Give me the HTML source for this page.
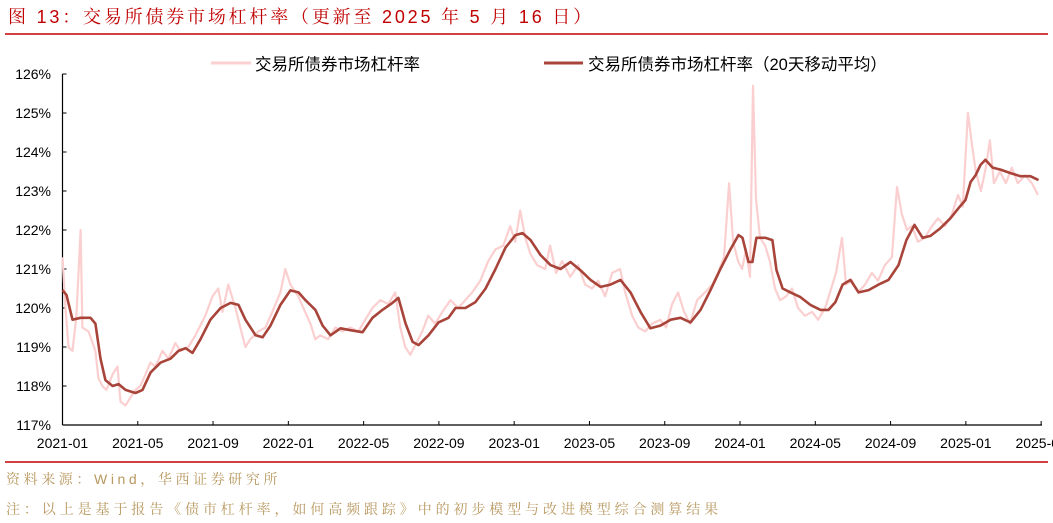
<!DOCTYPE html>
<html><head><meta charset="utf-8">
<style>
body{margin:0;background:#fff;width:1053px;height:523px;overflow:hidden;font-family:"Liberation Sans","Noto Sans CJK SC",sans-serif;}
svg{display:block}
</style></head><body>
<svg width="1053" height="523" id="c">
<text x="8" y="23" font-size="18" fill="#c00000" letter-spacing="2.8" font-family="Liberation Sans, Noto Serif CJK SC, serif">图 13：交易所债券市场杠杆率（更新至 2025 年 5 月 16 日）</text>
<line x1="5" y1="34" x2="1048" y2="34" stroke="#c00000" stroke-width="1.5"/>
<line x1="5" y1="462" x2="1048" y2="462" stroke="#c00000" stroke-width="1.5"/>
<text x="6" y="484" font-size="14" fill="#b8985f" letter-spacing="3.6" font-family="Liberation Sans, Noto Serif CJK SC, serif">资料来源：Wind，华西证券研究所</text>
<text x="6" y="514" font-size="14" fill="#b8985f" letter-spacing="3.9" font-family="Liberation Sans, Noto Serif CJK SC, serif">注：以上是基于报告《债市杠杆率，如何高频跟踪》中的初步模型与改进模型综合测算结果</text>
<g>
<line x1="211" y1="63" x2="251" y2="63" stroke="#fbd0d0" stroke-width="3"/>
<text x="255" y="70" font-size="16.5" fill="#000">交易所债券市场杠杆率</text>
<line x1="544" y1="63" x2="583" y2="63" stroke="#a8443a" stroke-width="3"/>
<text x="588" y="70" font-size="16.5" fill="#000">交易所债券市场杠杆率（20天移动平均）</text>
</g>
<g id="axes"></g>
<g id="plot"></g>
</svg>
<script>
const yTicks=[117,118,119,120,121,122,123,124,125,126];
const xTickLabels=["2021-01","2021-05","2021-09","2022-01","2022-05","2022-09","2023-01","2023-05","2023-09","2024-01","2024-05","2024-09","2025-01","2025-05"];
const maMonths=[0,0.21,0.53,0.96,1.49,1.75,2.02,2.28,2.66,2.98,3.35,3.88,4.25,4.68,5.21,5.74,6.16,6.54,6.91,7.33,7.86,8.40,8.93,9.35,9.72,10.26,10.63,11.05,11.58,12.11,12.54,12.91,13.44,13.82,14.24,14.77,15.30,15.94,16.47,17.00,17.53,17.85,18.23,18.60,18.92,19.45,19.98,20.51,20.88,21.41,21.94,22.48,23.01,23.54,24.07,24.44,24.87,25.40,25.93,26.46,26.99,27.52,28.06,28.59,29.12,29.65,30.18,30.71,31.24,31.77,32.31,32.84,33.37,33.90,34.43,34.96,35.49,35.92,36.13,36.45,36.66,36.87,37.35,37.72,37.94,38.26,38.68,39.21,39.74,40.28,40.70,41.07,41.45,41.87,42.30,42.83,43.36,43.89,44.42,44.84,45.27,45.70,46.12,46.65,47.18,47.61,47.98,48.25,48.51,48.78,49.04,49.42,49.84,50.37,50.90,51.43,51.86];
const maValues=[120.46,120.33,119.7,119.75,119.75,119.6,118.7,118.15,118.0,118.05,117.9,117.82,117.9,118.35,118.6,118.7,118.9,118.97,118.85,119.2,119.7,120.0,120.13,120.08,119.7,119.3,119.25,119.55,120.08,120.45,120.4,120.2,119.95,119.55,119.3,119.48,119.43,119.38,119.75,119.95,120.13,120.26,119.6,119.13,119.05,119.3,119.63,119.75,120.0,120.0,120.15,120.5,121.0,121.55,121.87,121.92,121.74,121.36,121.1,121.0,121.18,120.97,120.72,120.54,120.6,120.72,120.4,119.9,119.48,119.55,119.7,119.75,119.63,119.95,120.46,121.0,121.5,121.87,121.8,121.18,121.18,121.8,121.8,121.74,120.97,120.5,120.4,120.28,120.08,119.95,119.95,120.15,120.6,120.72,120.4,120.46,120.6,120.72,121.1,121.74,122.13,121.8,121.85,122.05,122.3,122.56,122.77,123.23,123.4,123.67,123.8,123.6,123.55,123.46,123.38,123.38,123.28];
const rawMonths=[0,.16,.32,.53,.74,.96,1.06,1.38,1.75,1.91,2.12,2.34,2.66,2.92,3.08,3.35,3.61,3.88,4.14,4.41,4.67,4.94,5.31,5.63,6.00,6.27,6.69,7.06,7.59,7.97,8.28,8.50,8.81,9.19,9.45,9.72,9.98,10.41,10.78,11.15,11.58,11.84,12.11,12.53,12.80,13.17,13.43,13.70,14.12,14.50,14.87,15.29,15.72,16.09,16.46,16.89,17.31,17.68,17.95,18.21,18.48,18.80,19.12,19.43,19.81,20.18,20.61,21.03,21.40,21.77,22.20,22.62,23.00,23.42,23.79,24.06,24.32,24.59,24.85,25.22,25.65,25.91,26.23,26.55,26.97,27.40,27.77,28.14,28.46,28.83,29.21,29.63,29.90,30.27,30.59,30.96,31.33,31.76,32.07,32.39,32.71,33.03,33.35,33.72,34.14,34.52,34.83,35.15,35.42,35.63,35.90,36.11,36.32,36.53,36.69,36.85,37.06,37.33,37.59,37.86,38.13,38.45,38.76,39.08,39.45,39.83,40.15,40.52,40.78,41.10,41.42,41.63,41.95,42.27,42.64,43.01,43.33,43.70,44.07,44.34,44.60,44.87,45.14,45.45,45.82,46.20,46.52,46.89,47.26,47.58,47.84,48.11,48.32,48.53,48.80,49.06,49.28,49.49,49.81,50.13,50.44,50.76,51.14,51.51,51.83];
const rawValues=[121.3,120.0,119.0,118.9,119.8,122.0,119.5,119.4,118.9,118.2,118.0,117.9,118.3,118.5,117.6,117.5,117.7,117.9,118.0,118.3,118.6,118.5,118.9,118.7,119.1,118.9,119.0,119.3,119.8,120.3,120.5,119.9,120.6,120.0,119.5,119.0,119.2,119.4,119.5,119.9,120.4,121.0,120.6,120.3,120.0,119.6,119.2,119.3,119.2,119.5,119.4,119.5,119.4,119.7,120.0,120.2,120.1,120.4,119.5,119.0,118.8,119.1,119.4,119.8,119.6,119.9,120.2,120.0,120.2,120.4,120.7,121.2,121.5,121.6,122.1,121.7,122.5,121.8,121.4,121.1,121.0,121.6,120.9,121.2,120.8,121.1,120.6,120.5,120.7,120.3,120.9,121.0,120.4,119.8,119.5,119.4,119.6,119.7,119.5,120.1,120.4,119.9,119.6,120.2,120.4,120.6,120.9,121.3,123.2,121.7,121.2,121.0,121.5,120.8,125.7,122.8,121.8,121.6,121.2,120.5,120.2,120.3,120.5,120.0,119.8,119.9,119.7,120.0,120.4,120.9,121.8,120.6,120.7,120.4,120.6,120.9,120.7,121.1,121.3,123.1,122.4,122.0,122.1,121.7,121.8,122.1,122.3,122.1,122.4,122.9,122.6,125.0,124.2,123.5,123.0,123.6,124.3,123.2,123.5,123.2,123.6,123.2,123.4,123.2,122.9];
const NS="http://www.w3.org/2000/svg";
const X0=62.5,MW=18.82,Y0=425,Y1=74,VMIN=117,VMAX=126;
const xs=m=>X0+m*MW;
const ys=v=>Y0-(v-VMIN)/(VMAX-VMIN)*(Y0-Y1);
function mk(t,a,p){const e=document.createElementNS(NS,t);for(const k in a)e.setAttribute(k,a[k]);p.appendChild(e);return e;}
const ax=document.getElementById('axes'),pl=document.getElementById('plot');
let yl=mk('line',{x1:X0,y1:Y1,x2:X0,y2:Y0,stroke:'#000','stroke-width':1.2},ax);


let xl=mk('line',{x1:X0,y1:Y0,x2:1042,y2:Y0,stroke:'#000','stroke-width':1.2},ax);


yTicks.forEach(v=>{
 const tk=mk('line',{x1:X0,y1:ys(v),x2:X0+4,y2:ys(v),stroke:'#000'},ax);
 
 
 const t=mk('text',{x:51,y:ys(v)+5,'font-size':14,'text-anchor':'end',fill:'#000'},ax);
 t.textContent=v+'%';
 
 
});
xTickLabels.forEach((s,i)=>{
 const x=xs(i*4);
 const tk=mk('line',{x1:x,y1:Y0,x2:x,y2:Y0-4,stroke:'#000'},ax);
 
 
 const t=mk('text',{x:x,y:448,'font-size':14,'text-anchor':'middle',fill:'#000'},ax);
 t.textContent=s;
 
 
});
function path(ms,vs){return ms.map((m,i)=>(i?'L':'M')+xs(m).toFixed(1)+','+ys(vs[i]).toFixed(1)).join('');}
const r=mk('path',{d:path(rawMonths,rawValues),fill:'none',stroke:'#fbcfcf','stroke-width':2.2,'stroke-linejoin':'round'},pl);


const a=mk('path',{d:path(maMonths,maValues),fill:'none',stroke:'#a8443a','stroke-width':2.6,'stroke-linejoin':'round'},pl);


</script>
</body></html>
